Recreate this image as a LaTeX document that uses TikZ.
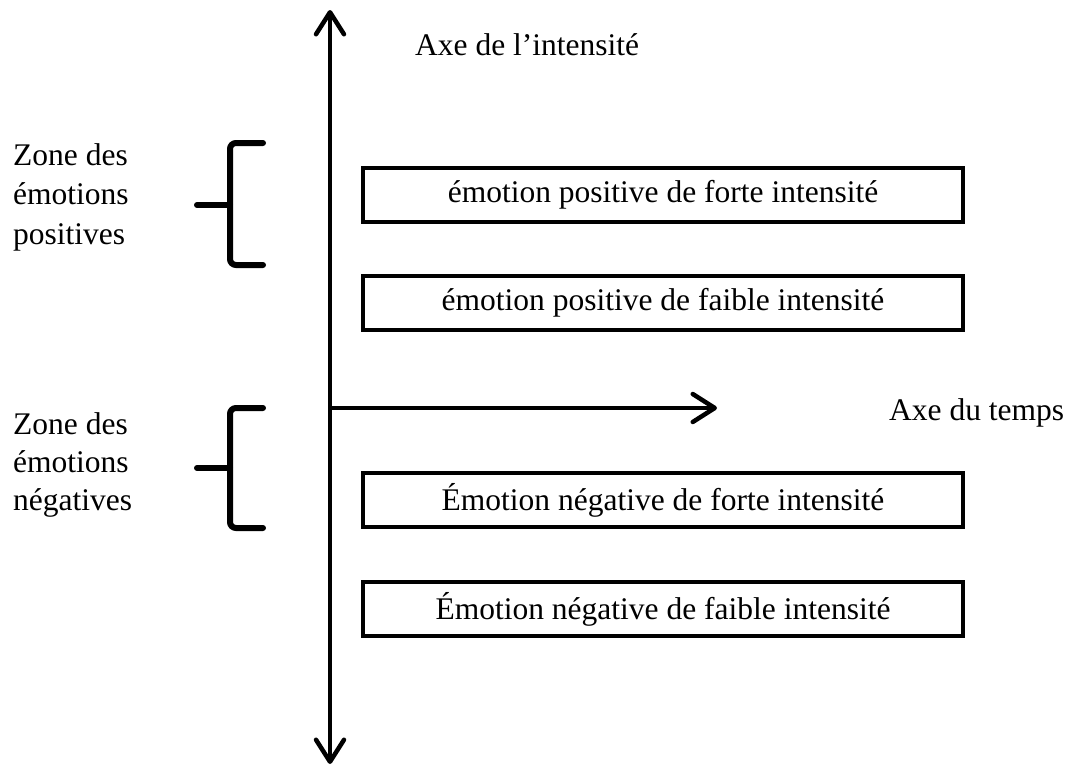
\documentclass[tikz,border=0pt]{standalone}
\usepackage{fontspec}
\setmainfont{Liberation Serif}
\usetikzlibrary{arrows.meta}
\begin{document}
\begin{tikzpicture}[x=1pt,y=-1pt,
  axis/.style={line width=4.5pt,{Straight Barb[length=22pt,width=28pt,line cap=round,line join=round]}-{Straight Barb[length=22pt,width=28pt,line cap=round,line join=round]}},
  haxis/.style={line width=4.5pt,-{Straight Barb[length=22pt,width=28pt,line cap=round,line join=round]}},
  emobox/.style={draw,line width=4pt,minimum width=600pt,minimum height=54pt,inner sep=0pt,font=\fontsize{31.5}{36}\selectfont},
  lbl/.style={font=\fontsize{31.5}{36}\selectfont,inner sep=0pt},
  brace/.style={line width=6pt,rounded corners=6pt,line cap=round}
]
\useasboundingbox (0,0) rectangle (1072,769);
\coordinate (top) at (330,10);
\coordinate (bot) at (330,764);
\coordinate (origin) at (330,408);
\coordinate (tend) at (717,408);
\draw[axis] (bot) -- (top);
\draw[haxis] (origin) -- (tend);

\node[emobox] (b1) at (663,195) {émotion positive de forte intensité};
\node[emobox] (b2) at (663,303) {émotion positive de faible intensité};
\node[emobox] (b3) at (663,500) {Émotion négative de forte intensité};
\node[emobox] (b4) at (663,609) {Émotion négative de faible intensité};

\node[lbl,anchor=west] (yl) at (415,45) {Axe de l’intensité};
\node[lbl,anchor=west] (xl) at (889,413) {Axe du temps};

\node[lbl,anchor=west,align=left,font=\fontsize{31.5}{39.5}\selectfont] (zp) at (13,197) {Zone des\\émotions\\positives};
\node[lbl,anchor=west,align=left,font=\fontsize{31.5}{38}\selectfont] (zn) at (13,465) {Zone des\\émotions\\négatives};

\draw[brace] (263,143) -- (230,143) -- (230,265) -- (263,265);
\draw[brace] (197,205) -- (230,205);
\draw[brace] (263,408) -- (230,408) -- (230,528) -- (263,528);
\draw[brace] (197,468) -- (230,468);
\end{tikzpicture}
\end{document}
